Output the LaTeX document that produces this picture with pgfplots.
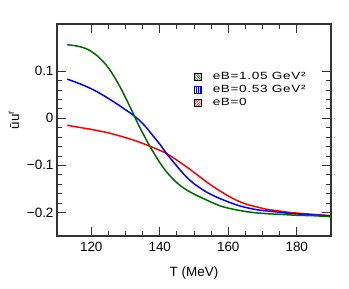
\documentclass[border=0pt]{standalone}
\usepackage{fontspec}
\setmainfont{Liberation Sans}
\newfontfamily\legfont[FakeStretch=1.3, LetterSpace=6]{Liberation Sans}
\usepackage{pgfplots}
\pgfplotsset{compat=1.18}
\usetikzlibrary{patterns.meta}
\definecolor{dgreen}{RGB}{0,105,0}
\begin{document}
\begin{tikzpicture}
\useasboundingbox (-57bp,-53bp) rectangle (292bp,236bp);
\begin{axis}[
  at={(0,0)}, anchor=south west,
  scale only axis, width=274bp, height=212bp,
  xmin=110, xmax=190, ymin=-0.25, ymax=0.2,
  xtick={120,140,160,180}, minor x tick num=3,
  ytick={-0.2,-0.1,0,0.1}, yticklabels={−0.2,−0.1,0,0.1},
  minor y tick num=4,
  tick align=inside,
  major tick length=9bp, minor tick length=5bp,
  every tick/.style={black!80, line width=0.8bp},
  axis line style={black!80, line width=1.1bp},
  /pgf/number format/assume math mode=true,
  tick label style={font=\fontsize{13.5}{16}\selectfont},
  xticklabel style={yshift=-3bp},
  xlabel={T (MeV)},
  xlabel style={font=\fontsize{13.5}{16}\selectfont, at={(axis description cs:0.5,-0.19)}, anchor=base},
  ylabel={ūu\textsuperscript{r}},
  ylabel style={font=\fontsize{13.5}{16}\selectfont, at={(axis description cs:-0.157,0.547)}, anchor=center},
  legend style={at={(axis description cs:0.5,0.783)}, anchor=north west, draw=none, fill=none,
    inner sep=0pt, column sep=10bp, row sep=0pt,
    nodes={inner sep=1bp, text height=8bp, text depth=3bp},
    font=\legfont\fontsize{10.5}{12}\selectfont},
  legend cell align=left,
]
\addlegendimage{legend image code/.code={\fill[pattern={Lines[angle=-45,distance=1.8bp,line width=0.6bp]}, pattern color=dgreen] (0bp,-3.5bp) rectangle (7bp,3.5bp);}}
\addlegendentry{eB=1.05 GeV²}
\addlegendimage{legend image code/.code={\fill[pattern={Lines[angle=90,distance=2.2bp,line width=0.6bp]}, pattern color=blue] (0bp,-3.5bp) rectangle (7bp,3.5bp); \draw[blue, line width=0.6bp] (0bp,-3.5bp) -- (7bp,-3.5bp) (0bp,3.5bp) -- (7bp,3.5bp);}}
\addlegendentry{eB=0.53 GeV²}
\addlegendimage{legend image code/.code={\fill[pattern={Lines[angle=45,distance=1.8bp,line width=0.6bp]}, pattern color=red] (0bp,-3.5bp) rectangle (7bp,3.5bp);}}
\addlegendentry{eB=0}

% eB = 0 (red)
\addplot[red, line width=1.5bp, smooth, forget plot] coordinates {
(113,-0.015) (117,-0.020) (121,-0.025) (125,-0.031) (129,-0.039) (133,-0.048)
(137,-0.059) (140,-0.068) (142,-0.075) (144,-0.084) (146,-0.094)
(148,-0.104) (150,-0.115) (152,-0.126) (154,-0.137) (156,-0.147) (158.4,-0.158)
(161,-0.169) (163.3,-0.177) (166,-0.184) (168.2,-0.188) (171,-0.193) (173,-0.195)
(178,-0.200) (183,-0.203) (190,-0.207)};
% eB = 0.53 (blue)
\addplot[blue, line width=1.5bp, smooth, forget plot] coordinates {
(113,0.083) (116,0.075) (119,0.066) (122,0.055) (125,0.042) (128,0.028)
(130,0.018) (132,0.008) (134,-0.004) (136,-0.019) (137,-0.028) (138,-0.037)
(140,-0.055) (142,-0.075) (144,-0.093) (146.8,-0.117) (148.7,-0.131) (150,-0.139)
(152.6,-0.152) (155,-0.162) (158.4,-0.173) (163.3,-0.186) (168.2,-0.194)
(173,-0.198) (178,-0.202) (184,-0.205) (190,-0.207)};
% eB = 1.05 (green)
\addplot[dgreen, line width=1.5bp, smooth, forget plot] coordinates {
(113,0.156) (116,0.153) (119,0.146) (122,0.131) (125,0.107) (128,0.072)
(131,0.029) (134,-0.017) (137,-0.058) (140,-0.094) (142,-0.114) (144,-0.130)
(146,-0.143) (148,-0.153) (150,-0.161) (152,-0.168) (155,-0.178) (158,-0.187)
(162,-0.194) (166,-0.199) (170,-0.202) (175,-0.204) (180,-0.206) (185,-0.207)
(190,-0.209)};
\end{axis}
\end{tikzpicture}
\end{document}
